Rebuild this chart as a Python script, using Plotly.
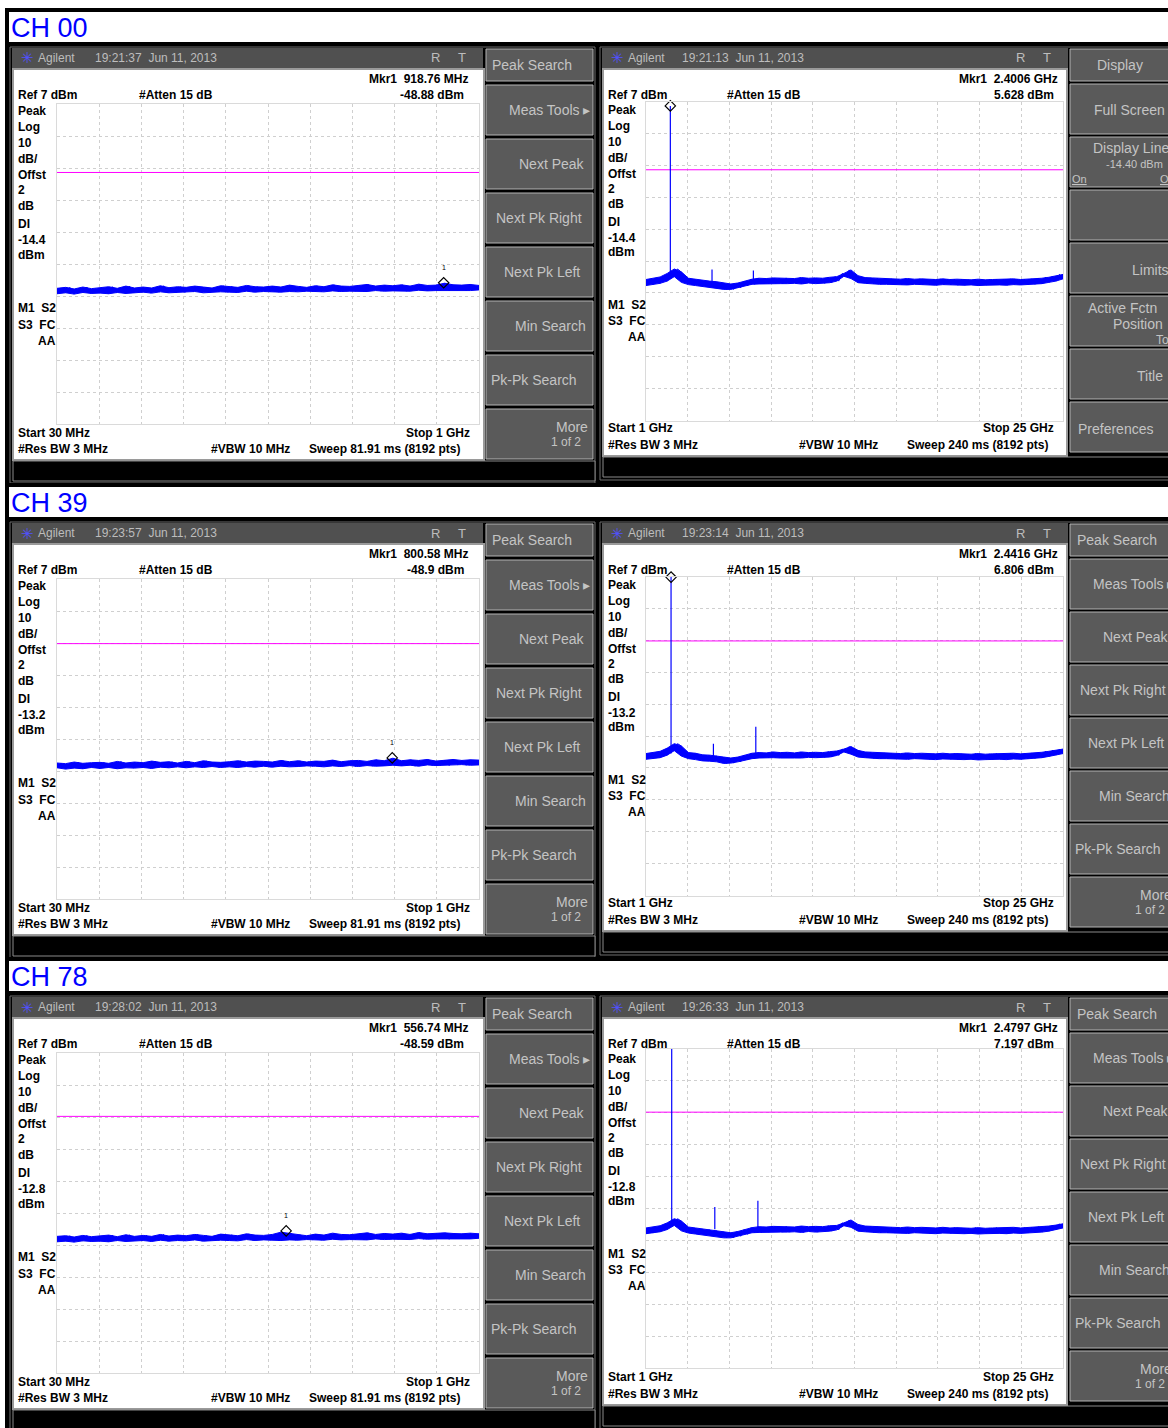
import numpy as np
import plotly.graph_objects as go

W, H = 1168, 1428

#---
# data
#---
CHANNELS = ["CH 00", "CH 39", "CH 78"]

LOW_START_MHZ, LOW_STOP_MHZ = 30, 1000
HIGH_START_GHZ, HIGH_STOP_GHZ = 1, 25
REF_DBM, BOTTOM_DBM = 7, -93

LOW_TIMES = ["19:21:37", "19:23:57", "19:28:02"]
HIGH_TIMES = ["19:21:13", "19:23:14", "19:26:33"]
DISPLAY_LINE_DBM = [-14.4, -13.2, -12.8]

LOW_MKR_MHZ = [918.76, 800.58, 556.74]
LOW_MKR_DBM = [-48.88, -48.9, -48.59]
HIGH_MKR_GHZ = [2.4006, 2.4416, 2.4797]
HIGH_MKR_DBM = [5.628, 6.806, 7.197]

# harmonic spurs (GHz, dBm) per channel
HIGH_SPUR_GHZ = [[4.80, 7.18], [4.88, 7.32], [4.96, 7.44]]
HIGH_SPUR_DBM = [[-45.7, -46.0], [-45.4, -40.1], [-42.5, -40.6]]

# sweep samples, 30 MHz - 1 GHz (dBm); consecutive pairs = one display column
CH00_LOW = [
    -52.3, -50.6, -52.0, -50.3, -52.4, -50.8, -51.9, -50.2, -52.2, -50.7,
    -52.1, -50.4, -52.3, -50.1, -51.9, -50.6, -52.2, -49.9, -52.0, -50.5,
    -51.8, -50.2, -52.1, -50.5, -51.7, -49.8, -52.0, -50.4, -51.9, -50.1,
    -51.9, -50.3, -51.6, -49.9, -52.0, -50.2, -51.8, -50.5, -51.7, -49.8,
    -51.8, -50.0, -51.9, -50.3, -51.5, -49.7, -51.8, -50.1, -51.6, -50.2,
    -51.7, -49.9, -51.8, -50.2, -51.6, -49.6, -51.7, -50.0, -51.5, -50.3,
    -51.6, -49.8, -51.7, -50.1, -51.4, -49.5, -51.6, -49.9, -51.5, -50.0,
    -51.5, -49.7, -51.6, -49.4, -51.3, -49.9, -51.5, -49.6, -51.4, -49.8,
    -51.4, -49.5, -51.5, -49.9, -51.2, -49.3, -51.4, -49.7, -51.3, -49.6,
    -51.3, -49.0, -51.4, -49.5, -51.2, -49.6, -51.3, -49.4, -51.1, -49.7,
]
CH39_LOW = [
    -52.0, -50.5, -52.4, -50.7, -52.1, -50.2, -52.3, -50.6, -51.9, -50.4,
    -52.2, -50.3, -51.9, -50.6, -52.3, -50.0, -52.0, -50.5, -52.1, -50.2,
    -51.9, -50.4, -52.2, -49.9, -51.8, -50.3, -52.0, -50.1, -51.7, -50.5,
    -52.0, -50.0, -51.7, -50.4, -51.9, -49.8, -51.6, -50.2, -51.9, -50.3,
    -51.7, -50.1, -51.9, -49.8, -51.6, -50.2, -51.8, -49.9, -51.5, -50.0,
    -51.8, -50.2, -51.5, -49.7, -51.7, -50.1, -51.6, -49.8, -51.4, -50.2,
    -51.5, -49.9, -51.7, -50.0, -51.4, -49.6, -51.6, -50.1, -51.3, -49.8,
    -51.6, -49.7, -51.3, -50.0, -51.5, -49.5, -51.4, -49.8, -51.2, -49.0,
    -51.4, -49.8, -51.2, -49.5, -51.5, -49.7, -51.1, -49.4, -51.3, -49.9,
    -51.2, -49.6, -51.3, -49.4, -51.0, -49.7, -51.2, -49.5, -51.1, -49.6,
]
CH78_LOW = [
    -52.0, -50.3, -51.8, -50.1, -52.1, -50.5, -51.7, -50.0, -51.9, -50.4,
    -51.8, -50.2, -52.0, -49.9, -51.6, -50.4, -51.9, -49.8, -51.7, -50.3,
    -51.6, -50.0, -51.9, -50.3, -51.5, -49.7, -51.8, -50.2, -51.6, -49.9,
    -51.7, -50.1, -51.4, -49.7, -51.8, -50.0, -51.6, -50.3, -51.5, -49.6,
    -51.6, -49.8, -51.7, -50.1, -51.3, -49.5, -51.6, -49.9, -51.4, -50.0,
    -51.5, -49.7, -51.6, -49.0, -51.4, -49.4, -51.5, -49.8, -51.3, -50.1,
    -51.4, -49.6, -51.5, -49.9, -51.2, -49.3, -51.4, -49.7, -51.3, -49.8,
    -51.3, -49.5, -51.4, -49.2, -51.1, -49.7, -51.3, -49.4, -51.2, -49.6,
    -51.2, -49.3, -51.3, -49.7, -51.0, -49.1, -51.2, -49.5, -51.1, -49.4,
    -51.1, -49.2, -51.2, -49.4, -51.0, -49.5, -51.1, -49.3, -50.9, -49.5,
]

# sweep samples, 1 - 25 GHz (dBm)
CH00_HIGH = [
    -50.7, -48.8, -50.4, -48.5, -50.0, -48.0, -49.3, -46.9, -47.9, -45.5,
    -46.4, -49.7, -48.4, -50.4, -48.7, -50.7, -49.1, -51.0, -49.3, -51.2,
    -49.5, -51.5, -49.9, -51.9, -50.2, -51.9, -49.9, -51.4, -49.3, -50.8,
    -48.7, -50.3, -48.4, -50.2, -48.5, -50.1, -48.3, -50.0, -48.4, -50.1,
    -48.3, -50.1, -48.5, -50.0, -48.2, -50.2, -48.4, -49.9, -48.3, -50.1,
    -48.4, -50.0, -48.1, -49.8, -47.9, -49.3, -46.9, -47.8, -45.8, -48.5,
    -47.6, -49.8, -48.2, -50.0, -48.3, -50.2, -48.4, -50.3, -48.5, -50.3,
    -48.6, -50.4, -48.7, -50.4, -48.5, -50.5, -48.7, -50.3, -48.6, -50.4,
    -48.7, -50.5, -48.8, -50.6, -48.6, -50.4, -48.8, -50.5, -48.7, -50.6,
    -48.8, -50.6, -48.9, -50.5, -48.7, -50.7, -48.9, -50.6, -48.8, -50.5,
    -48.7, -50.5, -48.8, -50.6, -48.6, -50.4, -48.8, -50.5, -48.7, -50.4,
    -48.6, -50.3, -48.4, -50.1, -48.1, -49.7, -47.7, -49.3, -47.2, -48.6,
]
CH39_HIGH = [
    -50.3, -48.5, -50.1, -48.2, -49.8, -47.8, -49.0, -46.8, -47.6, -45.4,
    -46.1, -49.3, -48.2, -50.1, -48.4, -50.4, -48.9, -50.8, -49.0, -50.9,
    -49.2, -51.1, -49.6, -51.6, -49.9, -51.5, -49.6, -51.1, -49.0, -50.5,
    -48.4, -50.1, -48.2, -49.9, -48.3, -49.8, -48.0, -49.8, -48.2, -49.9,
    -48.1, -49.8, -48.3, -49.9, -48.0, -49.9, -48.2, -49.7, -48.1, -49.8,
    -48.2, -49.7, -47.9, -49.6, -47.7, -49.1, -47.1, -48.0, -46.3, -48.7,
    -47.5, -49.6, -48.0, -49.8, -48.1, -50.0, -48.2, -50.1, -48.3, -50.1,
    -48.4, -50.2, -48.5, -50.2, -48.3, -50.3, -48.5, -50.1, -48.4, -50.2,
    -48.5, -50.3, -48.6, -50.4, -48.4, -50.2, -48.6, -50.3, -48.5, -50.4,
    -48.6, -50.4, -48.7, -50.3, -48.5, -50.5, -48.7, -50.4, -48.6, -50.3,
    -48.5, -50.3, -48.6, -50.4, -48.4, -50.2, -48.6, -50.3, -48.5, -50.2,
    -48.3, -50.0, -48.1, -49.8, -47.8, -49.4, -47.5, -49.0, -47.1, -48.5,
]
CH78_HIGH = [
    -50.9, -49.1, -50.7, -48.8, -50.3, -48.4, -49.6, -47.5, -48.3, -46.2,
    -46.9, -50.0, -48.8, -50.7, -49.1, -51.0, -49.4, -51.3, -49.6, -51.5,
    -49.9, -51.8, -50.3, -52.2, -50.6, -52.2, -50.2, -51.7, -49.6, -51.1,
    -49.0, -50.6, -48.7, -50.5, -48.8, -50.4, -48.6, -50.3, -48.7, -50.4,
    -48.6, -50.4, -48.8, -50.3, -48.5, -50.5, -48.7, -50.2, -48.6, -50.4,
    -48.7, -50.3, -48.4, -50.1, -48.3, -49.7, -47.5, -48.4, -46.6, -48.9,
    -48.0, -50.1, -48.5, -50.3, -48.6, -50.5, -48.7, -50.6, -48.8, -50.6,
    -48.9, -50.7, -49.0, -50.7, -48.8, -50.8, -49.0, -50.6, -48.9, -50.7,
    -49.0, -50.8, -49.1, -50.9, -48.9, -50.7, -49.1, -50.8, -49.0, -50.9,
    -49.1, -50.9, -49.2, -50.8, -49.0, -51.0, -49.2, -50.9, -49.1, -50.8,
    -49.0, -50.8, -49.1, -50.9, -48.9, -50.7, -49.1, -50.8, -49.0, -50.7,
    -48.9, -50.6, -48.7, -50.4, -48.5, -50.1, -48.2, -49.7, -47.8, -49.1,
]
LOW_TRACES = [CH00_LOW, CH39_LOW, CH78_LOW]
HIGH_TRACES = [CH00_HIGH, CH39_HIGH, CH78_HIGH]

PEAK_KEYS = ["Meas Tools \u25b8", "Next Peak", "Next Pk Right", "Next Pk Left",
             "Min Search", "Pk-Pk Search", "More"]

#---
# helpers (pixel -> paper)
#---
SECTION_OFF = [0, 475, 949]
FONT = "Liberation Sans, Arial, sans-serif"
KEY_GREY = "#5a5a5a"
KEY_TEXT = "#c4c4c4"
TRACE_BLUE = "#0000ff"
NB = "\u00a0"

shapes = []
annotations = []


def X(px):
    return px / W


def Y(py):
    return 1 - py / H


def rect(x0, y0, x1, y1, fill, line=None, lw=0):
    shapes.append(dict(type="rect", xref="paper", yref="paper",
                       x0=X(x0), x1=X(x1), y0=Y(y1), y1=Y(y0),
                       fillcolor=fill, line=dict(color=line or fill, width=lw),
                       layer="below"))


def label(s, x, y, anchor="left", size=12, color="black", bold=True):
    annotations.append(dict(text=f"<b>{s}</b>" if bold else s,
                            x=X(x), y=Y(y), xref="paper", yref="paper",
                            xanchor=anchor, yanchor="middle", showarrow=False,
                            borderpad=0,
                            font=dict(family=FONT, size=size, color=color)))


def key_text(s, x, y, anchor="right", size=14):
    label(s, x, y, anchor=anchor, size=size, color=KEY_TEXT, bold=False)


def add_sweep(levels, lo, hi, xr, yr):
    # every display column shows the pit and peak of its sample pair
    pit = [min(a, b) for a, b in zip(levels[0::2], levels[1::2])]
    peak = [max(a, b) for a, b in zip(levels[0::2], levels[1::2])]
    cols = np.linspace(lo, hi, len(pit))
    fig.add_trace(go.Scatter(x=cols, y=pit, mode="lines",
                             line=dict(color=TRACE_BLUE, width=1),
                             xaxis=xr, yaxis=yr))
    fig.add_trace(go.Scatter(x=cols, y=peak, mode="lines", fill="tonexty",
                             fillcolor=TRACE_BLUE,
                             line=dict(color=TRACE_BLUE, width=1),
                             xaxis=xr, yaxis=yr))
    # the raw samples on top give the ragged edge of the trace
    fig.add_trace(go.Scatter(x=np.linspace(lo, hi, len(levels)), y=levels,
                             mode="lines", line=dict(color=TRACE_BLUE, width=1),
                             xaxis=xr, yaxis=yr))


fig = go.Figure()
layout_axes = {}

for s in range(3):
    o = SECTION_OFF[s]
    dl = DISPLAY_LINE_DBM[s]

    # header band with channel name
    rect(5, 8 + o, 1175, 12 + o, "black")
    rect(5, 8 + o, 9, 46 + o, "black")
    rect(5, 42 + o, 1175, 47 + o, "black")
    label(CHANNELS[s], 10, 28 + o, size=27, color="#0000ff", bold=False)

    # instrument frames
    rect(5, 46 + o, 1175, 485 + o, "black")
    rect(10, 47 + o, 595, 483 + o, "black", "#6e6e6e", 1)
    rect(600, 47 + o, 1175, 480 + o, "black", "#6e6e6e", 1)

    for p in range(2):
        dx = 0 if p == 0 else 590
        # title bar
        tb_x1 = 483 if p == 0 else 1068
        rect(12 + dx, 48 + o, tb_x1, 69 + o, "#505050")
        label("\u2733", 20 + dx, 58 + o, size=15, color="#5050ff", bold=False)
        label("Agilent", 37 + dx, 58 + o, size=12, color="#bdbdbd", bold=False)
        t = LOW_TIMES[s] if p == 0 else HIGH_TIMES[s]
        label(f"{t}{NB}{NB}Jun 11, 2013", 94 + dx - (3 if p else 0), 58 + o,
              size=12, color="#bdbdbd", bold=False)
        label("R", 435 + dx - 5 * p, 58 + o, anchor="center", size=13,
              color="#bdbdbd", bold=False)
        label("T", 462 + dx - 5 * p, 58 + o, anchor="center", size=13,
              color="#bdbdbd", bold=False)

    # screens
    rect(13, 69 + o, 484, 460 + o, "white", "#9a9a9a", 2)
    rect(603, 69 + o, 1067, 456 + o, "white", "#9a9a9a", 2)
    # bottom black bars
    rect(13, 461 + o, 595, 481 + o, "black", "#8a8a8a", 1)
    rect(603, 457 + o, 1175, 477 + o, "black", "#8a8a8a", 1)

    # left softkeys (Peak Search menu)
    rect(486, 49 + o, 593, 81 + o, KEY_GREY, "#b4b4b4", 1)
    key_text("Peak Search", 491, 65 + o, anchor="left")
    lx = [591, 586, 583, 581, 587, 490, 589]
    for i, top in enumerate([85, 139, 193, 247, 301, 355, 409]):
        rect(486, top + o, 593, top + 50 + o, KEY_GREY, "#b4b4b4", 1)
        yc = top + 25 + o
        if i == 6:
            key_text("More", lx[i], yc - 7)
            key_text("1 of 2", 582, yc + 8, size=12)
        else:
            key_text(PEAK_KEYS[i], lx[i], yc, anchor="left" if i == 5 else "right")

    # right softkeys
    rect(1070, 49 + o, 1180, 81 + o, KEY_GREY, "#b4b4b4", 1)
    rtops = [84, 137, 190, 243, 296, 349, 402]
    for top in rtops:
        rect(1070, top + o, 1180, top + 50 + o, KEY_GREY, "#b4b4b4", 1)
    if s == 0:
        key_text("Display", 1120, 65 + o, anchor="center")
        key_text("Full Screen", 1166, 110 + o)
        key_text("Display Line", 1170, 148 + o)
        key_text("-14.40 dBm", 1164, 164 + o, size=11)
        key_text("<u>On</u>", 1071, 179 + o, anchor="left", size=11)
        key_text("<u>Off</u>", 1176, 179 + o, size=11)
        key_text("Limits", 1170, 270 + o)
        key_text("Active Fctn", 1158, 308 + o)
        key_text("Position", 1164, 324 + o)
        key_text("Top", 1177, 340 + o, size=12)
        key_text("Title", 1164, 376 + o)
        key_text("Preferences", 1077, 429 + o, anchor="left")
    else:
        key_text("Peak Search", 1076, 65 + o, anchor="left")
        for i, top in enumerate(rtops):
            yc = top + 25 + o
            if i == 6:
                key_text("More", lx[i] + 584, yc - 7)
                key_text("1 of 2", 582 + 584, yc + 8, size=12)
            else:
                key_text(PEAK_KEYS[i], lx[i] + 584, yc,
                         anchor="left" if i == 5 else "right")

    # screen annotations -- low band
    label(f"Mkr1{NB}{NB}{LOW_MKR_MHZ[s]:.2f} MHz", 469, 79 + o, anchor="right")
    label("Ref 7 dBm", 17, 95 + o)
    label("#Atten 15 dB", 138, 95 + o)
    label(f"{LOW_MKR_DBM[s]:g} dBm", 465, 95 + o, anchor="right")
    col = ["Peak", "Log", "10", "dB/", "Offst", "2", "dB", "DI", f"{dl:g}", "dBm",
           f"M1{NB}{NB}S2", f"S3{NB}{NB}FC"]
    col_y = [111, 127, 143, 159, 175, 190, 206, 224, 240, 255, 308, 325]
    for txt, yy in zip(col, col_y):
        label(txt, 17, yy + o)
    label("AA", 37, 341 + o)
    label("Start 30 MHz", 17, 433 + o)
    label("Stop 1 GHz", 471, 433 + o, anchor="right")
    label("#Res BW 3 MHz", 17, 449 + o)
    label("#VBW 10 MHz", 210, 449 + o)
    label("Sweep 81.91 ms (8192 pts)", 308, 449 + o)

    # screen annotations -- high band
    label(f"Mkr1{NB}{NB}{HIGH_MKR_GHZ[s]:.4f} GHz", 1059, 79 + o, anchor="right")
    label("Ref 7 dBm", 607, 95 + o)
    label("#Atten 15 dB", 726, 95 + o)
    label(f"{HIGH_MKR_DBM[s]:g} dBm", 1055, 95 + o, anchor="right")
    col_y_r = [110, 126, 142, 158, 174, 189, 204, 222, 238, 252, 305, 321]
    for txt, yy in zip(col, col_y_r):
        label(txt, 607, yy + o)
    label("AA", 627, 337 + o)
    label("Start 1 GHz", 607, 428 + o)
    label("Stop 25 GHz", 1055, 428 + o, anchor="right")
    label("#Res BW 3 MHz", 607, 445 + o)
    label("#VBW 10 MHz", 798, 445 + o)
    label("Sweep 240 ms (8192 pts)", 906, 445 + o)

    # --- plot areas ---
    for p in range(2):
        k = 2 * s + p + 1
        xa = "xaxis" if k == 1 else f"xaxis{k}"
        ya = "yaxis" if k == 1 else f"yaxis{k}"
        xr = "x" if k == 1 else f"x{k}"
        yr = "y" if k == 1 else f"y{k}"
        if p == 0:
            gx0, gx1, gy0 = 57, 479, 104 + o
            lo, hi = LOW_START_MHZ, LOW_STOP_MHZ
        else:
            gx0, gx1, gy0 = 646, 1063, 101.5 + o - (1.5 if s == 2 else 0)
            lo, hi = HIGH_START_GHZ, HIGH_STOP_GHZ
        gy1 = gy0 + (320 if p == 0 else 319)
        layout_axes[xa] = dict(domain=[X(gx0), X(gx1)], range=[lo, hi], anchor=yr,
                               tick0=lo, dtick=(hi - lo) / 10)
        layout_axes[ya] = dict(domain=[Y(gy1), Y(gy0)], range=[BOTTOM_DBM, REF_DBM],
                               anchor=xr, tick0=REF_DBM, dtick=10)

        # display line
        fig.add_trace(go.Scatter(x=[lo, hi], y=[dl, dl], mode="lines",
                                 line=dict(color="#ff00ff", width=1),
                                 xaxis=xr, yaxis=yr))
        if p == 0:
            add_sweep(LOW_TRACES[s], lo, hi, xr, yr)
            mx, my = LOW_MKR_MHZ[s], LOW_MKR_DBM[s]
        else:
            add_sweep(HIGH_TRACES[s], lo, hi, xr, yr)
            mx, my = HIGH_MKR_GHZ[s], HIGH_MKR_DBM[s]
            # carrier and harmonic spurs
            fig.add_trace(go.Scatter(x=[mx, mx], y=[-48.5, my], mode="lines",
                                     line=dict(color=TRACE_BLUE, width=1.2),
                                     xaxis=xr, yaxis=yr, cliponaxis=False))
            for fs, ls in zip(HIGH_SPUR_GHZ[s], HIGH_SPUR_DBM[s]):
                fig.add_trace(go.Scatter(x=[fs, fs], y=[-49.5, ls], mode="lines",
                                         line=dict(color=TRACE_BLUE, width=1.2),
                                         xaxis=xr, yaxis=yr))
        fig.add_trace(go.Scatter(x=[mx], y=[my], mode="markers",
                                 marker=dict(symbol="diamond-open", size=8,
                                             color="black", line=dict(width=1.2)),
                                 xaxis=xr, yaxis=yr, cliponaxis=False))
        if p == 0:
            annotations.append(dict(text="1", x=mx, y=my, xref=xr, yref=yr,
                                    yshift=15, showarrow=False,
                                    font=dict(family=FONT, size=7, color="black")))

axis_style = dict(showgrid=True, gridcolor="#cfcfcf", griddash="dot", gridwidth=1,
                  showticklabels=False, ticks="", zeroline=False, showline=True,
                  linecolor="#dadada", linewidth=1, mirror=True, fixedrange=True)
for name, cfg in layout_axes.items():
    cfg.update(axis_style)

fig.update_layout(
    width=W, height=H,
    margin=dict(l=0, r=0, t=0, b=0),
    paper_bgcolor="white",
    plot_bgcolor="rgba(0,0,0,0)",
    showlegend=False,
    hovermode=False,
    shapes=shapes,
    annotations=annotations,
    **layout_axes,
)

# the page's default 8px body margin would push the figure off the window
fig.write_html("out.html", config={"displayModeBar": False},
               post_script="document.body.style.margin='0px';")
